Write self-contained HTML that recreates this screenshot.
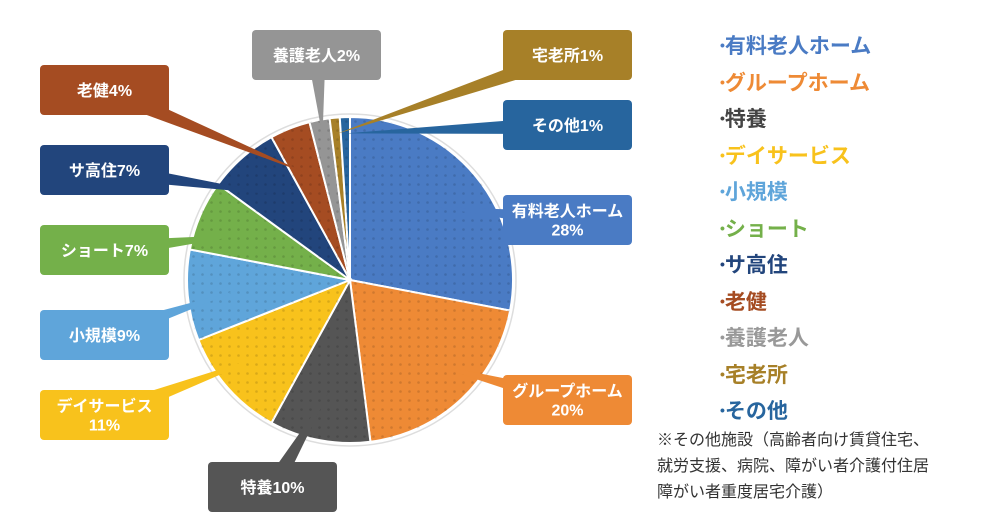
<!DOCTYPE html>
<html><head><meta charset="utf-8"><style>
body{margin:0;background:#fff;width:1000px;height:530px;overflow:hidden;font-family:"Liberation Sans","Noto Sans CJK JP",sans-serif;}
svg{position:absolute;left:0;top:0}
.legend{position:absolute;left:720px;top:28px;font-weight:bold;font-size:21px;line-height:35.5px}
.legend div{white-space:nowrap}
.note{position:absolute;left:657px;top:428px;font-size:16px;line-height:26px;color:#333}
</style></head><body>
<svg id="chart" width="1000" height="530">
<defs>
<pattern id="dots" width="9" height="9" patternUnits="userSpaceOnUse"><circle cx="4.5" cy="4.5" r="1.3" fill="rgba(0,0,0,0.13)"/></pattern>
</defs>
</svg>
<div class="legend" id="legend"></div>
<div class="note">※その他施設（高齢者向け賃貸住宅、<br>就労支援、病院、障がい者介護付住居<br>障がい者重度居宅介護）</div>
<script>
const categories=["有料老人ホーム","グループホーム","特養","デイサービス","小規模","ショート","サ高住","老健","養護老人","宅老所","その他"];
const values=[28,20,10,11,9,7,7,4,2,1,1];
const labels=["有料老人ホーム\n28%","グループホーム\n20%","特養10%","デイサービス\n11%","小規模9%","ショート7%","サ高住7%","老健4%","養護老人2%","宅老所1%","その他1%"];
const colors=["#4a7bc4","#ee8a35","#555555","#f8c21c","#5fa5da","#74b04a","#22457c","#a54c22","#959595","#a78028","#27659e"];
const legendColors=["#4a7bc4","#ee8a35","#444","#f8c21c","#5fa5da","#74b04a","#22457c","#a54c22","#999","#a78028","#27659e"];
const boxes=[[503,195],[503,375],[208,462],[40,390],[40,310],[40,225],[40,145],[40,65],[252,30],[503,30],[503,100]];
const NS="http://www.w3.org/2000/svg";
const svg=document.getElementById('chart');
const cx=350,cy=280,r=163;
const total=values.reduce((a,b)=>a+b,0);
function pt(a,rr){return [cx+rr*Math.sin(a),cy-rr*Math.cos(a)];}
const bg=document.createElementNS(NS,'circle');
bg.setAttribute('cx',cx);bg.setAttribute('cy',cy);bg.setAttribute('r',r+3);
bg.setAttribute('fill','#fff');bg.setAttribute('stroke','#ddd');bg.setAttribute('stroke-width','1.5');


svg.appendChild(bg);
let acc=0;const mids=[];
values.forEach((v,i)=>{
 const a0=acc/total*2*Math.PI;acc+=v;const a1=acc/total*2*Math.PI;
 mids.push((a0+a1)/2);
 const p0=pt(a0,r),p1=pt(a1,r);
 const d=`M${cx},${cy}L${p0[0]},${p0[1]}A${r},${r} 0 ${a1-a0>Math.PI?1:0} 1 ${p1[0]},${p1[1]}Z`;
 const g=document.createElementNS(NS,'g');
 
 
 const p=document.createElementNS(NS,'path');p.setAttribute('d',d);p.setAttribute('fill',colors[i]);
 p.setAttribute('stroke','#fff');p.setAttribute('stroke-width','2');
 const q=document.createElementNS(NS,'path');q.setAttribute('d',d);q.setAttribute('fill','url(#dots)');
 g.appendChild(p);g.appendChild(q);svg.appendChild(g);
});
values.forEach((v,i)=>{
 const [bx,by]=boxes[i];const w=129,h=50;
 const tgt=pt(mids[i],r*(v<3?0.9:0.7));
 const bcx=bx+w/2,bcy=by+h/2;
 const dx=tgt[0]-bcx,dy=tgt[1]-bcy,len=Math.hypot(dx,dy);
 const nx=-dy/len*9,ny=dx/len*9;
 const tri=document.createElementNS(NS,'polygon');
 tri.setAttribute('points',`${bcx+nx},${bcy+ny} ${bcx-nx},${bcy-ny} ${tgt[0]},${tgt[1]}`);
 tri.setAttribute('fill',colors[i]);
 
 
 svg.appendChild(tri);
 const rect=document.createElementNS(NS,'rect');
 rect.setAttribute('x',bx);rect.setAttribute('y',by);rect.setAttribute('width',w);rect.setAttribute('height',h);
 rect.setAttribute('rx',4);rect.setAttribute('fill',colors[i]);
 
 
 svg.appendChild(rect);
 const lines=labels[i].split('\n');
 lines.forEach((s,k)=>{
  const t=document.createElementNS(NS,'text');
  t.setAttribute('x',bcx);t.setAttribute('y',bcy+6+(k-(lines.length-1)/2)*19);
  t.setAttribute('text-anchor','middle');t.setAttribute('fill','#fff');
  t.setAttribute('font-size','16');t.setAttribute('font-weight','bold');
  
  
  t.textContent=s;svg.appendChild(t);
 });
});
const lg=document.getElementById('legend');
categories.forEach((c,i)=>{
 const d=document.createElement('div');
 
 
 d.style.color=legendColors[i];
 d.innerHTML='<span style="font-size:14px;vertical-align:3px">•</span>'+c;
 lg.appendChild(d);
});
</script>
</body></html>
